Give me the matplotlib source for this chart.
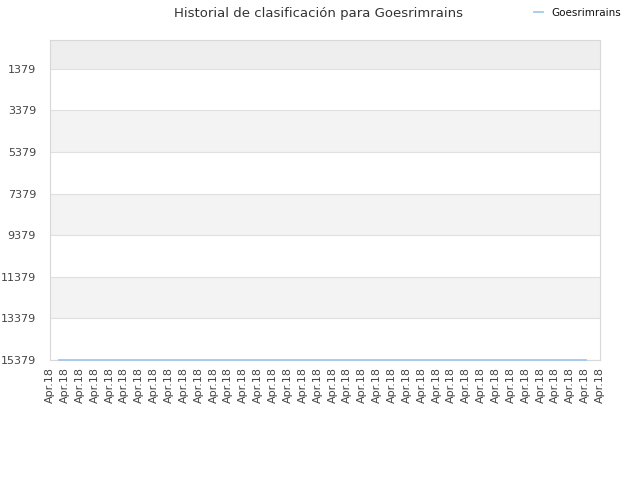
import matplotlib
matplotlib.use("Agg")
import matplotlib.pyplot as plt
import numpy as np

title = "Historial de clasificación para Goesrimrains"
series_name = "Goesrimrains"
tick_labels = ["Apr.18"] * 38
ranks = [15379] * 37
y_ticks = [1379, 3379, 5379, 7379, 9379, 11379, 13379, 15379]

fig = plt.figure(figsize=(6.4, 4.8), dpi=100)
ax = fig.add_axes([50/640, 120/480, 550/640, 320/480])

x = np.arange(len(ranks))
xmin, xmax = -0.61, len(ranks) - 1 + 0.96
ymin_top, ymax_bot = 0, 15379

# bands
ax.axhspan(ymin_top, y_ticks[0], color="#eeeeee", zorder=0, lw=0)
for i in range(len(y_ticks) - 1):
    if i % 2 == 1:
        ax.axhspan(y_ticks[i], y_ticks[i+1], color="#f3f3f3", zorder=0, lw=0)
for yt in y_ticks:
    ax.axhline(yt, color="#e0e0e0", lw=0.8, zorder=1)

ax.plot(x, ranks, color="#a3c8ef", lw=1.3, zorder=3, label=series_name, clip_on=False)

ax.set_xlim(xmin, xmax)
ax.set_ylim(ymax_bot, ymin_top)
ax.set_yticks(y_ticks)
ax.set_yticklabels([str(v) for v in y_ticks])
ax.set_xticks(np.linspace(xmin, xmax, len(tick_labels)))
ax.set_xticklabels(tick_labels, rotation=90)
ax.tick_params(axis="both", length=0, labelsize=8, labelcolor="#444444")
ax.tick_params(axis="y", pad=10)
ax.tick_params(axis="x", pad=5)
for s in ax.spines.values():
    s.set_color("#d8d8d8")
    s.set_linewidth(0.8)

fig.text(318/640, 1 - 13/480, title, ha="center", va="center", fontsize=9.5, color="#333333")
leg = fig.legend(loc="center left", bbox_to_anchor=(525/640, 1 - 13/480), frameon=False,
                 fontsize=7.5, handlelength=0.8, handletextpad=0.8)
for t in leg.get_texts():
    t.set_color("#111111")

fig.savefig("out.png", dpi=100)
